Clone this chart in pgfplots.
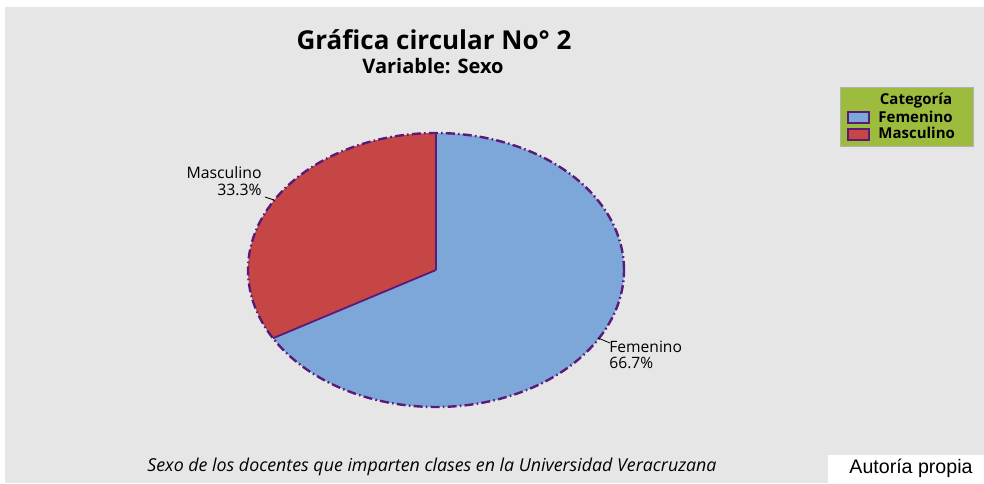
\documentclass[border=0pt]{standalone}
\usepackage{pgfplots}
\usepackage{pgfplotstable}
\pgfplotsset{compat=1.18}
\usepackage{fontspec}
\setmainfont{Open Sans}
\newfontfamily\arialf{Liberation Sans}
\definecolor{bggray}{HTML}{E6E6E6}
\definecolor{mblue}{HTML}{7DA7D9}
\definecolor{mred}{HTML}{C64646}
\definecolor{mpurple}{HTML}{5A1A7A}
\definecolor{lgreen}{HTML}{9DBB3D}
\pgfplotstableread{
cat value
Femenino 66.7
Masculino 33.3
}\piedata
\pgfplotstablegetelem{0}{value}\of\piedata \let\vfem\pgfplotsretval
\pgfplotstablegetelem{1}{value}\of\piedata \let\vmas\pgfplotsretval
\pgfmathsetmacro{\aS}{90}
\pgfmathsetmacro{\aM}{90+3.6*\vmas}
\pgfmathsetmacro{\aF}{\aM+3.6*\vfem}
\begin{document}
\begin{tikzpicture}
\begin{axis}[
  x=0.5pt, y=0.5pt,
  xmin=0, xmax=984, ymin=0, ymax=483,
  hide axis, clip=false,
  axis line style={draw=none},
]
% background
\fill[white] (axis cs:0,0) rectangle (axis cs:984,483);
\fill[bggray] (axis cs:5,0) rectangle (axis cs:984,476);
% pie sectors
\addplot[fill=mred, draw=none, domain=\aS:\aM, samples=80]
  ({436+188*cos(x)},{213+137*sin(x)}) -- (axis cs:436,213) -- cycle;
\addplot[fill=mblue, draw=none, domain=\aM:\aF, samples=160]
  ({436+188*cos(x)},{213+137*sin(x)}) -- (axis cs:436,213) -- cycle;
% outline
\addplot[draw=mpurple, line width=1.2pt, dash pattern=on 4.5pt off 1.6pt on 0.8pt off 1.6pt, domain=0:360, samples=240]
  ({436+188*cos(x)},{213+137*sin(x)});
\draw[mpurple, line width=0.9pt] (axis cs:436,213) -- (axis cs:436,350);
\draw[mpurple, line width=0.9pt] (axis cs:436,213) -- (axis cs:{436+188*cos(\aM)},{213+137*sin(\aM)});
% slice labels
\draw[black, line width=0.4pt] (axis cs:265,286) -- (axis cs:274,283);
\node[anchor=east, align=right, font=\fontsize{7.9}{8.6}\selectfont, inner sep=0pt] at (axis cs:262,302) {Masculino\\33.3\%};
\draw[black, line width=0.4pt] (axis cs:598,145) -- (axis cs:610,140);
\node[anchor=west, align=left, font=\fontsize{7.8}{8.2}\selectfont, inner sep=0pt] at (axis cs:609,128) {Femenino\\66.7\%};
% titles
\node[font=\bfseries\fontsize{13}{15}\selectfont, inner sep=0pt] at (axis cs:434,443) {Gráfica circular No° 2};
\node[font=\bfseries\fontsize{10}{12}\selectfont, inner sep=0pt] at (axis cs:433,417) {Variable: Sexo};
% legend
\fill[lgreen] (axis cs:840,337) rectangle (axis cs:973,396);
\draw[gray!60, line width=0.4pt] (axis cs:840,337) rectangle (axis cs:973,396);
\node[font=\bfseries\fontsize{7.5}{8}\selectfont, inner sep=0pt] at (axis cs:916,382) {Categoría};
\filldraw[fill=mblue, draw=mpurple, line width=0.8pt] (axis cs:848,360) rectangle (axis cs:869,371);
\filldraw[fill=mred, draw=mpurple, line width=0.8pt] (axis cs:848,343) rectangle (axis cs:869,354);
\node[anchor=west, font=\bfseries\fontsize{7.5}{8}\selectfont, inner sep=0pt] at (axis cs:878,366) {Femenino};
\node[anchor=west, font=\bfseries\fontsize{7.5}{8}\selectfont, inner sep=0pt] at (axis cs:878,350) {Masculino};
% caption
\node[font=\itshape\fontsize{8.9}{10}\selectfont, inner sep=0pt] at (axis cs:432,16) {Sexo de los docentes que imparten clases en la Universidad Veracruzana};
% source box
\fill[white] (axis cs:828,0) rectangle (axis cs:984,28);
\node[font=\arialf\fontsize{9.8}{11}\selectfont, inner sep=0pt] at (axis cs:911,15) {Autoría propia};
\end{axis}
\end{tikzpicture}
\end{document}
